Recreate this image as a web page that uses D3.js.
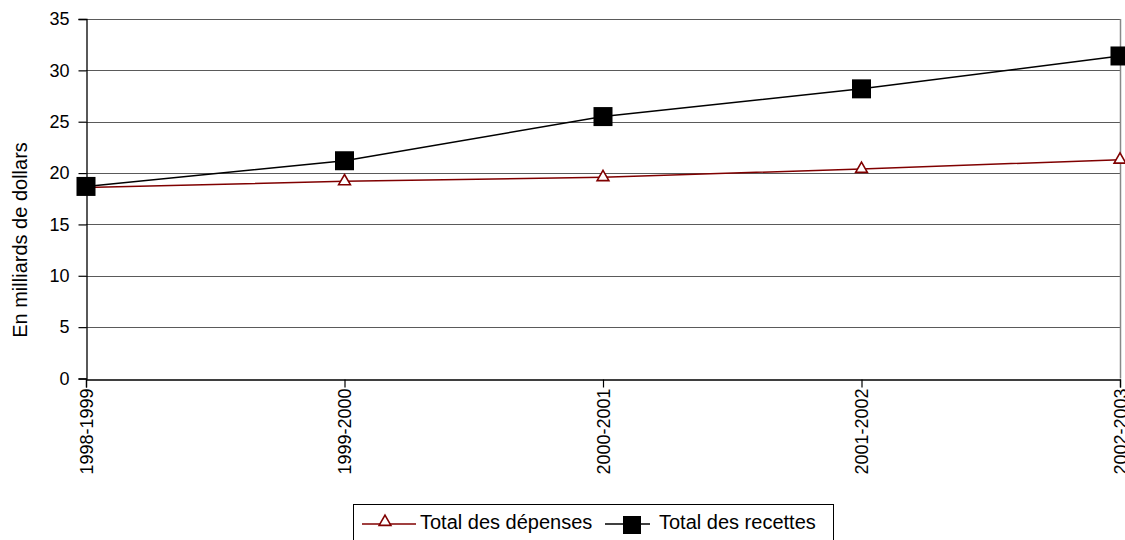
<!DOCTYPE html>
<html><head><meta charset="utf-8">
<script src="https://cdn.jsdelivr.net/npm/d3@7"></script>
<style>body{margin:0;background:#fff;}svg{display:block;font-family:"Liberation Sans",Arial,sans-serif;}</style>
</head><body>
<svg id="c" width="1125" height="540"></svg>
<script>
const categories = ["1998-1999","1999-2000","2000-2001","2001-2002","2002-2003"];
const depenses = [18.6, 19.2, 19.6, 20.4, 21.3];
const recettes = [18.7, 21.2, 25.5, 28.2, 31.4];
const yTicks = [0,5,10,15,20,25,30,35];
const seriesNames = ["Total des dépenses","Total des recettes"];

const FONT = "Liberation Sans, Arial, sans-serif";
const svg = d3.select("#c");
const L=86, R=1120, T=19, B=378.5;
const x = d3.scalePoint().domain(categories).range([L,R]).padding(0);
const y = d3.scaleLinear().domain([0,35]).range([B,T]);

// gridlines
svg.append("g").selectAll("line").data(yTicks.filter(d=>d>0)).join("line")
  .attr("x1",L).attr("x2",R).attr("y1",d=>Math.round(y(d))+0.5).attr("y2",d=>Math.round(y(d))+0.5)
  .attr("stroke","#5a5a5a").attr("stroke-width",1.2);
// right border
svg.append("line").attr("x1",R+0.5).attr("x2",R+0.5).attr("y1",T).attr("y2",B).attr("stroke","#888").attr("stroke-width",1.5);

// y axis
const ya = svg.append("g").attr("transform",`translate(${L+0.5},0)`)
  .call(d3.axisLeft(y).tickValues(yTicks).tickSize(8).tickPadding(9).tickFormat(d3.format("d")));
ya.select(".domain").attr("stroke","#000").attr("stroke-width",1.3);
ya.selectAll(".tick line").attr("stroke","#000").attr("stroke-width",1.2);
ya.selectAll("text").attr("font-size","18px").attr("fill","#000").attr("font-family",FONT);

// x axis
const xa = svg.append("g").attr("transform",`translate(0,${Math.round(B)+0.5})`)
  .call(d3.axisBottom(x).tickSize(8));
xa.select(".domain").attr("stroke","#000").attr("stroke-width",1.3);
xa.selectAll(".tick line").attr("stroke","#000").attr("stroke-width",1.2);
xa.selectAll("text").attr("font-size","18px").attr("fill","#000").attr("font-family",FONT)
  .attr("transform","rotate(-90)").attr("text-anchor","end").attr("x",-9).attr("y",0).attr("dy","0.35em");

// y title
svg.append("text").attr("transform",`translate(27,240) rotate(-90)`)
  .attr("text-anchor","middle").attr("font-size","20px").attr("font-family",FONT).text("En milliards de dollars");

const line = d3.line().x((d,i)=>x(categories[i])).y(d=>y(d));
const tri = d3.symbol().type(d3.symbolTriangle).size(60);

svg.append("path").datum(depenses).attr("d",line).attr("fill","none").attr("stroke","#800000").attr("stroke-width",1.5);
svg.append("path").datum(recettes).attr("d",line).attr("fill","none").attr("stroke","#000").attr("stroke-width",1.5);

svg.append("g").selectAll("path").data(depenses).join("path")
  .attr("d",tri).attr("transform",(d,i)=>`translate(${x(categories[i])},${y(d)})`)
  .attr("fill","#fff").attr("stroke","#800000").attr("stroke-width",1.6);
svg.append("g").selectAll("rect").data(recettes).join("rect")
  .attr("x",(d,i)=>x(categories[i])-9.5).attr("y",d=>y(d)-9.5).attr("width",19).attr("height",19).attr("fill","#000");

// legend
const lg = svg.append("g");
lg.append("rect").attr("x",353.5).attr("y",504.5).attr("width",480).attr("height",45).attr("fill","#fff").attr("stroke","#000");
const ly = 524;
lg.append("line").attr("x1",362).attr("x2",416).attr("y1",ly).attr("y2",ly).attr("stroke","#800000").attr("stroke-width",1.5);
lg.append("path").attr("d",tri).attr("transform",`translate(385,${ly-2})`).attr("fill","#fff").attr("stroke","#800000").attr("stroke-width",1.6);
lg.append("text").attr("x",420).attr("y",529).attr("font-size","20px").attr("font-family",FONT).text(seriesNames[0]);
lg.append("line").attr("x1",605).attr("x2",650).attr("y1",ly).attr("y2",ly).attr("stroke","#000").attr("stroke-width",1.5);
lg.append("rect").attr("x",623).attr("y",ly-8).attr("width",18).attr("height",18).attr("fill","#000");
lg.append("text").attr("x",659).attr("y",529).attr("font-size","20px").attr("font-family",FONT).text(seriesNames[1]);
</script>
</body></html>
